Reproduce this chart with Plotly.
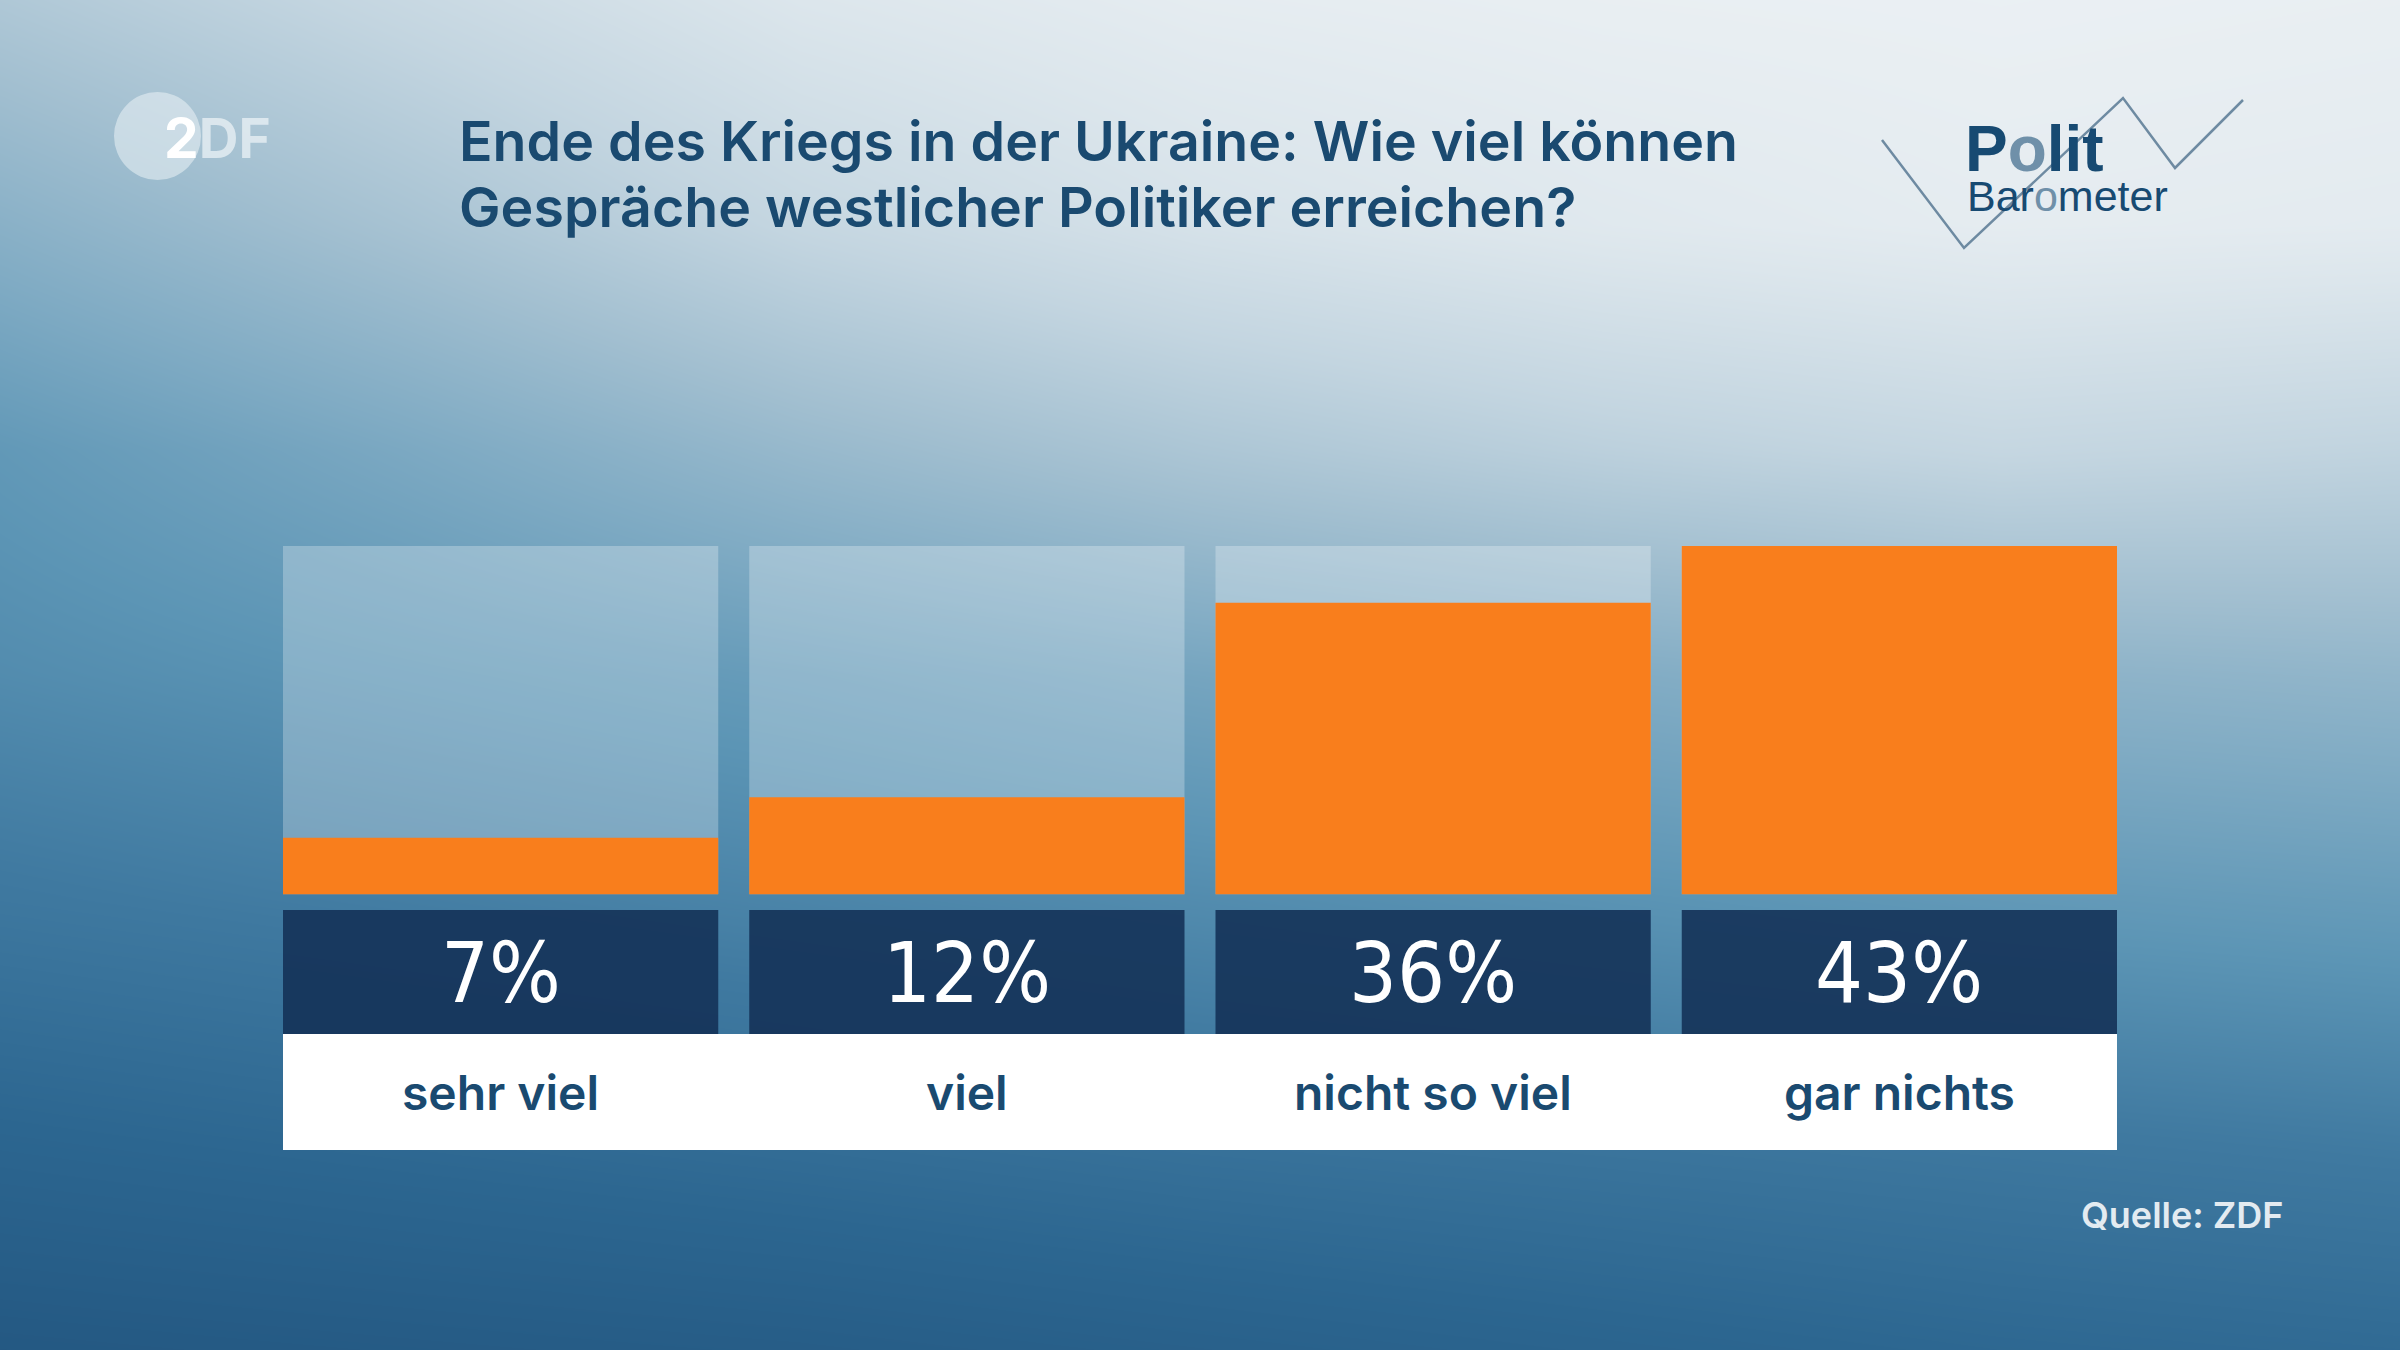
import plotly.graph_objects as go

# ---------------- data ----------------
categories = ["sehr viel", "viel", "nicht so viel", "gar nichts"]
values = [7, 12, 36, 43]
value_labels = ["7%", "12%", "36%", "43%"]
title_lines = ["Ende des Kriegs in der Ukraine: Wie viel können",
               "Gespräche westlicher Politiker erreichen?"]
source_text = "Quelle: ZDF"

# background gradient (darkness 0..1) on a coarse grid
bg_x = [0, 400, 800, 1200, 1600, 2000, 2400]
bg_y = [0, 225, 450, 675, 900, 1125, 1350]
bg_z = [
    [0.30, 0.20, 0.10, 0.05, 0.03, 0.02, 0.03],
    [0.44, 0.33, 0.21, 0.13, 0.08, 0.05, 0.06],
    [0.58, 0.49, 0.39, 0.31, 0.25, 0.21, 0.23],
    [0.64, 0.60, 0.56, 0.51, 0.47, 0.43, 0.41],
    [0.73, 0.70, 0.67, 0.64, 0.61, 0.58, 0.56],
    [0.85, 0.82, 0.79, 0.76, 0.74, 0.72, 0.70],
    [0.97, 0.95, 0.93, 0.90, 0.87, 0.84, 0.82],
]
bg_scale = [
    [0.00, "#eef2f5"], [0.10, "#dce6ec"], [0.22, "#c3d5e0"],
    [0.35, "#a2bfd0"], [0.48, "#7eaac3"], [0.60, "#5c95b5"],
    [0.72, "#3f79a0"], [0.85, "#2c6690"], [1.00, "#22557f"],
]

W, H = 2400, 1350
ORANGE = "#f97e1c"
NAVY_TEXT = "#1a4a70"
BAR_W = 0.9335


def px(x):
    return x / W


def py(y):
    return 1 - y / H


fig = go.Figure()

# background
fig.add_trace(go.Heatmap(x=bg_x, y=bg_y, z=bg_z, colorscale=bg_scale, zmin=0, zmax=1,
                         zsmooth="best", showscale=False, hoverinfo="skip",
                         xaxis="x", yaxis="y"))

xs = list(range(len(categories)))
ymax = max(values)
# light "track" bars
fig.add_trace(go.Bar(x=xs, y=[ymax] * len(xs), width=BAR_W,
                     marker=dict(color="rgba(255,255,255,0.27)", line=dict(width=0)),
                     hoverinfo="skip", xaxis="x2", yaxis="y2"))
# value bars
fig.add_trace(go.Bar(x=xs, y=values, width=BAR_W,
                     marker=dict(color=ORANGE, line=dict(width=0)),
                     hoverinfo="skip", xaxis="x2", yaxis="y2"))

shapes = []
annotations = []
# dark value boxes + labels
for i, (lab, cat) in enumerate(zip(value_labels, categories)):
    shapes.append(dict(type="rect", xref="x2", yref="paper",
                       x0=i - BAR_W / 2, x1=i + BAR_W / 2, y0=py(1034), y1=py(910),
                       fillcolor="rgba(20,50,88,0.9)", line=dict(width=0), layer="above"))
    annotations.append(dict(x=i, y=py(973), xref="x2", yref="paper", text=lab,
                            showarrow=False, xanchor="center", yanchor="middle",
                            font=dict(family="DejaVu Sans Condensed, DejaVu Sans", size=84,
                                      color="white")))
    annotations.append(dict(x=i, y=py(1092), xref="x2", yref="paper", text=cat,
                            showarrow=False, xanchor="center", yanchor="middle",
                            font=dict(family="Inter", size=48, color=NAVY_TEXT,
                                      weight=600)))
# white category strip
shapes.append(dict(type="rect", xref="x2", yref="paper",
                   x0=-BAR_W / 2, x1=len(xs) - 1 + BAR_W / 2, y0=py(1150), y1=py(1034),
                   fillcolor="white", line=dict(width=0), layer="above"))

# title
for j, line in enumerate(title_lines):
    annotations.append(dict(x=px(457), y=py(140 + j * 66.7), xref="paper", yref="paper",
                            text=line, showarrow=False, xanchor="left", yanchor="middle",
                            font=dict(family="Inter", size=55.5, color=NAVY_TEXT, weight=600)))

# source
annotations.append(dict(x=px(2285), y=py(1215), xref="paper", yref="paper", text=source_text,
                        showarrow=False, xanchor="right", yanchor="middle",
                        font=dict(family="Inter", size=36, color="#e3ebf1", weight=600)))

# ZDF logo
shapes.append(dict(type="circle", xref="paper", yref="paper",
                   x0=px(114), x1=px(201), y0=py(180), y1=py(92),
                   fillcolor="rgba(235,242,246,0.55)", line=dict(width=0), layer="above"))
annotations.append(dict(x=px(162), y=py(138), xref="paper", yref="paper",
                        text="2<span style='color:rgba(235,242,246,0.75)'>DF</span>",
                        showarrow=False, xanchor="left", yanchor="middle",
                        font=dict(family="Inter", size=55, color="white", weight=700)))

# PolitBarometer logo
zz = [(1882, 140), (1964, 248), (2123, 98), (2175, 168), (2243, 100)]
path = "M " + " L ".join(f"{px(a)},{py(b)}" for a, b in zz)
shapes.append(dict(type="path", xref="paper", yref="paper", path=path,
                   line=dict(color="rgba(70,105,135,0.75)", width=2.5), layer="above"))
annotations.append(dict(x=px(1963), y=py(149), xref="paper", yref="paper",
                        text="<b>P<span style='color:#6f90a9'>o</span>lit</b>",
                        showarrow=False, xanchor="left", yanchor="middle",
                        font=dict(family="Liberation Sans", size=64, color="#174a72")))
annotations.append(dict(x=px(1965), y=py(196), xref="paper", yref="paper",
                        text="Bar<span style='color:#6f90a9'>o</span>meter",
                        showarrow=False, xanchor="left", yanchor="middle",
                        font=dict(family="Liberation Sans", size=43, color="#174a72")))

fig.update_layout(
    width=W, height=H, margin=dict(l=0, r=0, t=0, b=0),
    paper_bgcolor="#2a5d84", plot_bgcolor="rgba(0,0,0,0)",
    showlegend=False, barmode="overlay",
    xaxis=dict(domain=[0, 1], range=[0, 2400], visible=False, fixedrange=True),
    yaxis=dict(domain=[0, 1], range=[1350, 0], visible=False, fixedrange=True),
    xaxis2=dict(domain=[px(267.5), px(2132.5)], range=[-0.5, len(xs) - 0.5],
                visible=False, anchor="y2"),
    yaxis2=dict(domain=[py(894.6), py(546)], range=[0, ymax], visible=False, anchor="x2"),
    shapes=shapes, annotations=annotations,
)

fig.write_html("out.html", config={"displayModeBar": False},
               post_script="document.body.style.margin='0';document.body.style.overflow='hidden';")
